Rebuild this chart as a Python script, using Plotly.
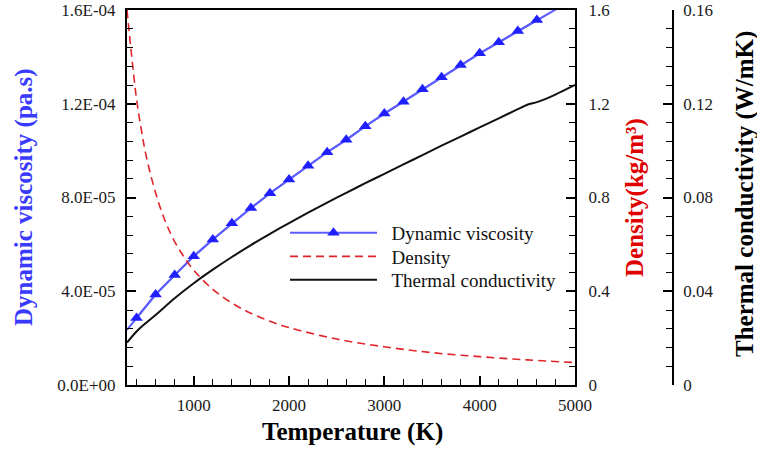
import plotly.graph_objects as go

# Temperature grid (K) and transport properties
visc_T = [300, 400, 600, 800, 1000, 1200, 1400, 1600, 1800, 2000, 2200, 2400,
          2600, 2800, 3000, 3200, 3400, 3600, 3800, 4000, 4200, 4400, 4600,
          4800, 5000]
visc_mu = [2.35e-5, 2.86e-5, 3.86e-5, 4.69e-5, 5.49e-5, 6.21e-5, 6.90e-5,
           7.55e-5, 8.18e-5, 8.77e-5, 9.36e-5, 9.93e-5, 1.046e-4, 1.104e-4,
           1.158e-4, 1.209e-4, 1.262e-4, 1.313e-4, 1.365e-4, 1.415e-4,
           1.462e-4, 1.510e-4, 1.557e-4, 1.603e-4, 1.648e-4]

dens_T = [300, 350, 400, 450, 500, 600, 700, 800, 900, 1000, 1200, 1400,
          1600, 1800, 2000, 2500, 3000, 3500, 4000, 4500, 5000]
dens_rho = [1.60, 1.40, 1.22, 1.09, 0.98, 0.82, 0.70, 0.612, 0.545, 0.49,
            0.408, 0.35, 0.306, 0.272, 0.245, 0.196, 0.163, 0.138, 0.121,
            0.107, 0.096]

cond_T = [300, 400, 500, 600, 800, 1000, 1200, 1400, 1600, 1800, 2000, 2200,
          2400, 2600, 2800, 3000, 3200, 3400, 3600, 3800, 4000, 4200, 4400,
          4500, 4600, 4700, 4800, 5000]
cond_k = [0.0181, 0.0228, 0.0265, 0.0299, 0.0370, 0.0434, 0.0492, 0.0546,
          0.0597, 0.0645, 0.0691, 0.0735, 0.0778, 0.0820, 0.0861, 0.0901,
          0.0941, 0.0981, 0.1021, 0.1060, 0.1099, 0.1138, 0.1177, 0.1196,
          0.1207, 0.1222, 0.1240, 0.1280]

# Axis ticks
x_ticks = [1000, 2000, 3000, 4000, 5000]
mu_ticks = [0, 4e-5, 8e-5, 1.2e-4, 1.6e-4]
mu_labels = ["0.0E+00", "4.0E-05", "8.0E-05", "1.2E-04", "1.6E-04"]
rho_ticks = [0, 0.4, 0.8, 1.2, 1.6]
rho_labels = ["0", "0.4", "0.8", "1.2", "1.6"]
k_ticks = [0, 0.04, 0.08, 0.12, 0.16]
k_labels = ["0", "0.04", "0.08", "0.12", "0.16"]

FONT = "Liberation Serif, Times New Roman, serif"
BLUE_LINE = "#5c5cff"
BLUE_MARK = "#2020ff"
RED = "#e0262b"
BLACK = "#111111"

W, H = 757, 449
L_PX, R_PX, T_PX, B_PX = 127, 575, 10, 385
AX3_PX = 673
PLOT_H = B_PX - T_PX


def paper_y(px):
    return (B_PX - px) / PLOT_H


fig = go.Figure()

# viscosity: continuous line plus triangle markers every 200 K
fig.add_trace(go.Scatter(
    x=visc_T, y=visc_mu, mode="lines", showlegend=False,
    line=dict(color=BLUE_LINE, width=2), yaxis="y", hoverinfo="skip"))
fig.add_trace(go.Scatter(
    x=visc_T[1:-2], y=visc_mu[1:-2], mode="lines+markers",
    name="\u2002Dynamic viscosity", legend="legend",
    line=dict(color=BLUE_LINE, width=2),
    marker=dict(symbol="triangle-up", size=11, color=BLUE_MARK),
    yaxis="y"))
fig.add_trace(go.Scatter(
    x=dens_T, y=dens_rho, mode="lines", name="\u2002Density",
    legend="legend2",
    line=dict(color=RED, width=1.6, dash="8px,5px", shape="spline"),
    yaxis="y2"))
fig.add_trace(go.Scatter(
    x=cond_T, y=cond_k, mode="lines", name="\u2002Thermal conductivity",
    legend="legend3",
    line=dict(color=BLACK, width=2, shape="spline", smoothing=0.8),
    yaxis="y3"))

tickfont = dict(family=FONT, size=17, color="#1a1a1a")
common = dict(showgrid=False, zeroline=False, showline=True, linecolor="black",
              ticks="inside", ticklen=9, tickwidth=1.5, tickcolor="black",
              tickfont=tickfont, automargin=False)


def minor(step):
    return dict(dtick=step, tick0=0, ticks="inside", ticklen=6,
                tickwidth=1.2, tickcolor="black")


legend_base = dict(xanchor="left", yanchor="middle", x=285 / W,
                   bgcolor="rgba(0,0,0,0)", borderwidth=0,
                   font=dict(family=FONT, size=19, color="#111"),
                   itemwidth=87)

fig.update_layout(
    width=W, height=H, autosize=False,
    margin=dict(l=0, r=0, t=T_PX, b=H - B_PX, autoexpand=False),
    paper_bgcolor="white", plot_bgcolor="white",
    font=dict(family=FONT, color="black"),
    xaxis=dict(domain=[L_PX / W, R_PX / W], range=[300, 5000],
               tickvals=x_ticks, linewidth=2, mirror=True,
               minor=minor(200), ticklabelstandoff=4, **common),
    yaxis=dict(range=[0, 1.6e-4], tickvals=mu_ticks, ticktext=mu_labels,
               linewidth=2, anchor="x", minor=minor(8e-6),
               ticklabelstandoff=6, **common),
    yaxis2=dict(range=[0, 1.6], tickvals=rho_ticks, ticktext=rho_labels,
                overlaying="y", side="right", anchor="x", linewidth=2,
                minor=minor(0.08), ticklabelstandoff=8, **common),
    yaxis3=dict(range=[0, 0.16], tickvals=k_ticks, ticktext=k_labels,
                overlaying="y", side="right", anchor="free",
                position=AX3_PX / W, linewidth=1.8,
                minor=minor(0.008), ticklabelstandoff=6, **common),
    legend=dict(y=paper_y(233), **legend_base),
    legend2=dict(y=paper_y(256.5), **legend_base),
    legend3=dict(y=paper_y(280), **legend_base),
)

title_font = dict(family=FONT, size=25)
annots = [
    dict(text="<b>Temperature (K)</b>", x=352 / W, y=paper_y(432),
         font=dict(color="black", **title_font)),
    dict(text="<b>Dynamic viscosity (pa.s)</b>", x=24 / W, y=paper_y(197),
         textangle=-90, font=dict(color="#3a3aff", **title_font)),
    dict(text="<b>Density(kg/m\u00b3)</b>", x=635 / W, y=paper_y(198),
         textangle=-90, font=dict(color="#e00000", **title_font)),
    dict(text="<b>Thermal conductivity (W/mK)</b>", x=745 / W,
         y=paper_y(194), textangle=-90,
         font=dict(color="black", **title_font)),
]
for a in annots:
    fig.add_annotation(xref="paper", yref="paper", showarrow=False,
                       xanchor="center", yanchor="middle", **a)

fig.write_html("out.html")
